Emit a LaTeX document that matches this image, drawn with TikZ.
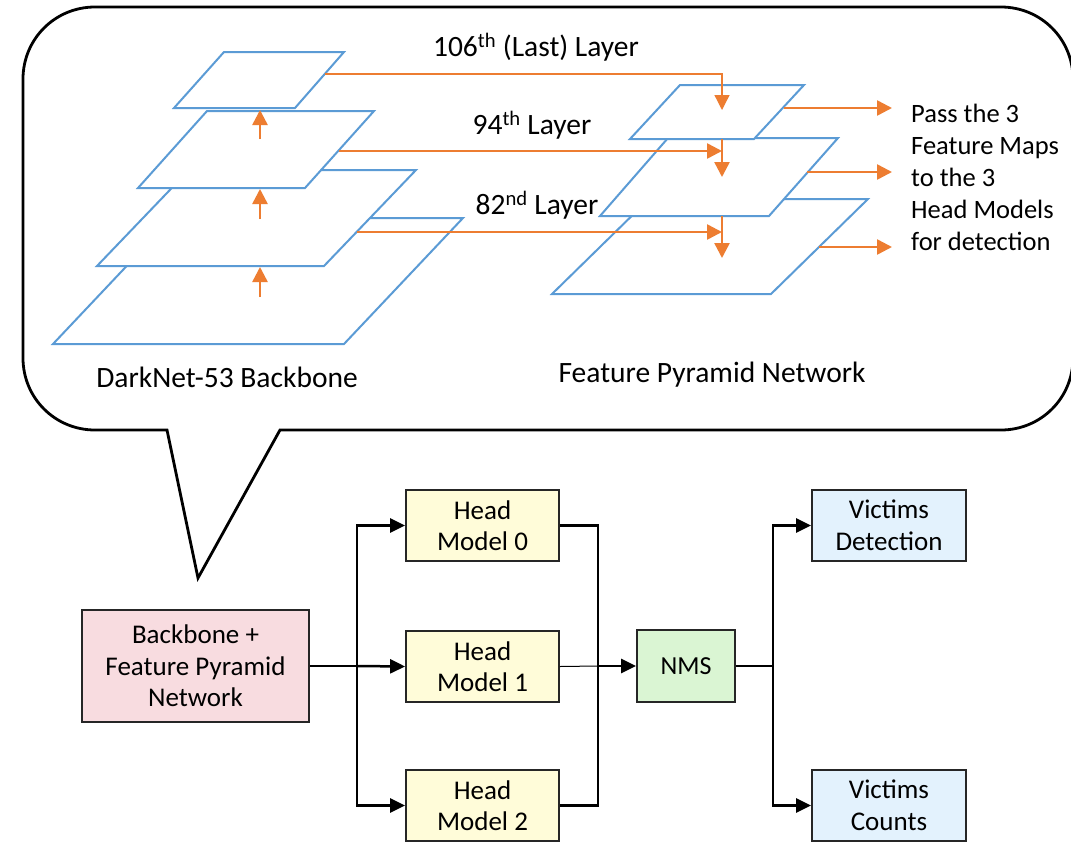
\documentclass[tikz,border=0pt]{standalone}
\usepackage{fontspec}
\setmainfont{Carlito}
\usetikzlibrary{arrows.meta}
\definecolor{planeblue}{HTML}{5B9BD5}
\definecolor{fmorange}{HTML}{ED7D31}
\definecolor{fillpink}{HTML}{F8DCE0}
\definecolor{fillyellow}{HTML}{FFFCD9}
\definecolor{fillgreen}{HTML}{DAF5D3}
\definecolor{fillblue}{HTML}{E3F2FD}
\definecolor{boxline}{HTML}{262626}

\begin{document}
\begin{tikzpicture}[x=1pt,y=-1pt,
  plane/.style={draw=planeblue, line width=2pt, fill=white},
  fmarrow/.style={draw=fmorange, line width=2.5pt, -{Triangle[length=15pt,width=15pt]}},
  fmthin/.style={draw=fmorange, line width=1.3pt, -{Triangle[length=15pt,width=15pt]}},
  bubble/.style={draw=black, line width=2.8pt},
  block/.style={draw=boxline, line width=1.8pt, align=center,
    font=\fontsize{27}{31.5}\selectfont, inner sep=0pt},
  flow/.style={draw=black, line width=2.5pt, -{Triangle[length=15pt,width=14pt]}},
  link/.style={draw=black, line width=2.5pt},
  thinlink/.style={draw=black, line width=1pt},
  lbl/.style={font=\fontsize{29.5}{34}\selectfont, inner sep=0pt},
  sidelbl/.style={font=\fontsize{26.5}{32}\selectfont, inner sep=0pt, align=left},
]
\useasboundingbox (0,0) rectangle (1071,841);

% speech bubble around the network detail
\draw[bubble] (280,430) -- (1001,430) .. controls (1041,430) and (1073,398) .. (1073,358)
  -- (1073,79) .. controls (1073,39) and (1041,7) .. (1001,7)
  -- (95,7) .. controls (55,7) and (23,39) .. (23,79)
  -- (23,358) .. controls (23,398) and (55,430) .. (95,430)
  -- (167,430) -- (198,578) -- cycle;

% backbone feature maps, largest at the bottom
\draw[plane] (53,344) -- (172,218) -- (463,218) -- (344,344) -- cycle;
\draw[plane] (97,266) -- (189,170) -- (416,170) -- (324,266) -- cycle;
\draw[plane] (138,188) -- (207,111) -- (374,111) -- (305,188) -- cycle;
\draw[plane] (174,108) -- (224,52) -- (344,52) -- (295,108) -- cycle;

% feature pyramid maps
\draw[plane] (552,294) -- (649,199) -- (868,199) -- (771,294) -- cycle;
\draw[plane] (600,216) -- (668,138) -- (838,138) -- (769,216) -- cycle;
\draw[plane] (630,139) -- (680,85) -- (804,85) -- (754,139) -- cycle;

% anchor points on the maps
\coordinate (up1s) at (260,139); \coordinate (up1e) at (260,110);
\coordinate (up2s) at (260,219); \coordinate (up2e) at (260,189);
\coordinate (up3s) at (260,297); \coordinate (up3e) at (260,267);
\coordinate (l106s) at (325,74);  \coordinate (l106e) at (722,110);
\coordinate (l94s) at (339,151);  \coordinate (l94e) at (722,151);
\coordinate (l82s) at (357,232);  \coordinate (l82e) at (722,232);
\coordinate (dn1s) at (722,139);  \coordinate (dn1e) at (722,177);
\coordinate (dn2s) at (722,216);  \coordinate (dn2e) at (722,258);
\coordinate (out1s) at (784,108); \coordinate (out1e) at (892,108);
\coordinate (out2s) at (807,172); \coordinate (out2e) at (892,172);
\coordinate (out3s) at (819,247); \coordinate (out3e) at (892,247);

% upsampling path inside the backbone
\draw[fmarrow] (up1s) -- (up1e);
\draw[fmarrow] (up2s) -- (up2e);
\draw[fmarrow] (up3s) -- (up3e);

% lateral connections from backbone layers into the pyramid
\draw[fmthin] (l106s) -| (l106e);
\draw[fmarrow] (l94s) -- (l94e);
\draw[fmarrow] (l82s) -- (l82e);
\draw[fmarrow] (dn1s) -- (dn1e);
\draw[fmarrow] (dn2s) -- (dn2e);

% outputs to the heads
\draw[fmarrow] (out1s) -- (out1e);
\draw[fmarrow] (out2s) -- (out2e);
\draw[fmarrow] (out3s) -- (out3e);

% labels of the detail view
\node[lbl] (t106) at (536,47) {106\textsuperscript{th} (Last) Layer};
\node[lbl] (t94) at (532,125) {94\textsuperscript{th} Layer};
\node[lbl] (t82) at (537,205) {82\textsuperscript{nd} Layer};
\node[lbl] (tdark) at (227,377) {DarkNet-53 Backbone};
\node[lbl] (tfpn) at (712,375) {Feature Pyramid Network};
\node[sidelbl, anchor=west] (tpass) at (911,177)
  {Pass the 3\\Feature Maps\\to the 3\\Head Models\\for detection};

% pipeline blocks
\node[block, fill=fillpink, minimum width=227pt, minimum height=112pt] (bb) at (195.5,666)
  {Backbone +\\Feature Pyramid\\Network};
\node[block, fill=fillyellow, minimum width=153pt, minimum height=71pt] (h0) at (482.5,525.5) {Head\\Model 0};
\node[block, fill=fillyellow, minimum width=153pt, minimum height=71pt] (h1) at (482.5,666.5) {Head\\Model 1};
\node[block, fill=fillyellow, minimum width=153pt, minimum height=71pt] (h2) at (482.5,805.5) {Head\\Model 2};
\node[block, fill=fillgreen, minimum width=98pt, minimum height=72pt, font=\fontsize{26}{31.5}\selectfont] (nms) at (686,666) {NMS};
\node[block, fill=fillblue, minimum width=154pt, minimum height=71pt] (vd) at (889,525.5) {Victims\\Detection};
\node[block, fill=fillblue, minimum width=154pt, minimum height=71pt] (vc) at (889,805.5) {Victims\\Counts};

% pipeline connectors
\coordinate (split1) at (357,666);
\coordinate (merge) at (598,666);
\coordinate (split2) at (773,666);
\draw[link] (bb.east) -- (split1);
\draw[flow] (split1) |- (h0.west);
\draw[flow] (split1) -- (h1.west);
\draw[flow] (split1) |- (h2.west);
\draw[link] (h0.east) -| (merge);
\draw[link] (h2.east) -| (merge);
\draw[thinlink] (h1.east) -- (merge);
\draw[flow] (merge) -- (nms.west);
\draw[link] (nms.east) -- (split2);
\draw[flow] (split2) |- (vd.west);
\draw[flow] (split2) |- (vc.west);
\end{tikzpicture}
\end{document}
